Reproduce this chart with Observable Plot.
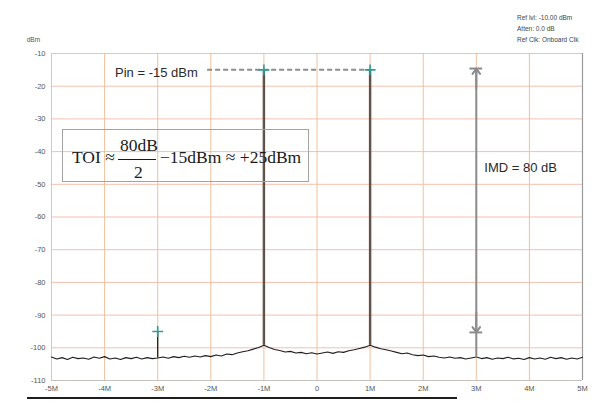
<!DOCTYPE html>
<html>
<head>
<meta charset="utf-8">
<script src="https://cdn.jsdelivr.net/npm/d3@7"></script>
<script src="https://cdn.jsdelivr.net/npm/@observablehq/plot@0.6"></script>
<style>
  body { margin: 0; background: #fff; }
  #wrap { position: relative; width: 600px; height: 417px; overflow: hidden; background: #fff; }
  #wrap svg { position: absolute; left: 0; top: 0; }
  .hdr { position: absolute; left: 517px; top: 12px; font: 6.5px "Liberation Sans", sans-serif; line-height: 11px; color: #444; white-space: nowrap; }
  .toibox { position: absolute; left: 62px; top: 129px; width: 247px; height: 53px; box-sizing: border-box; border: 1.5px solid #a3a3a3; }
  .m { position: absolute; font: 17.5px "Liberation Serif", serif; line-height: 1; color: #1a1a1a; white-space: nowrap; }
  .bar { position: absolute; left: 118px; top: 159px; width: 38px; height: 1px; background: #1a1a1a; }
  .under { position: absolute; left: 27px; top: 397px; width: 430px; height: 2px; background: #1e1e1e; }
</style>
</head>
<body>
<div id="wrap"></div>
<script>
// Frequency offsets (MHz) of the measured noise trace
const freqs = [-5.0,-4.9,-4.8,-4.7,-4.6,-4.5,-4.4,-4.3,-4.2,-4.1,-4.0,-3.9,-3.8,-3.7,-3.6,-3.5,-3.4,-3.3,-3.2,-3.1,
  -3.0,-2.9,-2.8,-2.7,-2.6,-2.5,-2.4,-2.3,-2.2,-2.1,-2.0,-1.9,-1.8,-1.7,-1.6,-1.5,-1.4,-1.3,-1.2,-1.1,
  -1.0,-0.9,-0.8,-0.7,-0.6,-0.5,-0.4,-0.3,-0.2,-0.1,0.0,0.1,0.2,0.3,0.4,0.5,0.6,0.7,0.8,0.9,
  1.0,1.1,1.2,1.3,1.4,1.5,1.6,1.7,1.8,1.9,2.0,2.1,2.2,2.3,2.4,2.5,2.6,2.7,2.8,2.9,
  3.0,3.1,3.2,3.3,3.4,3.5,3.6,3.7,3.8,3.9,4.0,4.1,4.2,4.3,4.4,4.5,4.6,4.7,4.8,4.9,5.0];
// Noise floor level (dBm)
const noise = [-102.8,-103.4,-103.0,-103.6,-102.9,-103.3,-103.1,-103.5,-102.8,-103.2,-102.7,-103.4,-103.1,-103.6,-103.0,-103.3,-102.9,-103.4,-103.0,-103.3,
  -103.1,-102.8,-103.2,-102.7,-103.0,-102.6,-102.9,-102.5,-102.8,-102.4,-102.7,-102.2,-102.5,-101.9,-102.1,-101.6,-101.2,-100.9,-100.4,-99.9,
  -99.2,-99.9,-100.5,-100.8,-101.3,-101.1,-101.6,-101.4,-101.8,-101.5,-101.9,-101.6,-101.3,-101.7,-101.2,-101.4,-100.9,-100.6,-100.2,-99.8,
  -99.2,-99.8,-100.3,-100.6,-101.0,-101.4,-101.8,-101.6,-102.1,-102.4,-102.2,-102.7,-102.5,-102.9,-103.1,-102.8,-103.2,-103.0,-103.4,-103.1,
  -102.8,-103.3,-103.0,-103.5,-103.1,-103.3,-102.9,-103.4,-103.2,-103.6,-103.0,-103.4,-103.1,-103.5,-102.9,-103.3,-103.0,-103.5,-103.1,-103.4,-102.9];

// Two input tones
const toneFreqs = [-1, 1];
const toneLevels = [-15, -15];
// Third-order intermod product
const imdFreqs = [-3];
const imdLevels = [-95];

// Axis ticks
const xTicks = [-5, -4, -3, -2, -1, 0, 1, 2, 3, 4, 5];
const xTickLabels = ["-5M", "-4M", "-3M", "-2M", "-1M", "0", "1M", "2M", "3M", "4M", "5M"];
const yTicks = [-10, -20, -30, -40, -50, -60, -70, -80, -90, -100, -110];
const yTickLabels = ["-10", "-20", "-30", "-40", "-50", "-60", "-70", "-80", "-90", "-100", "-110"];

// Annotation values
const pinLevel = -15;
const imdArrowFreq = 3;
const imdArrowTop = -14.6;
const imdArrowBottom = -95.3;

const trace = freqs.map((f, i) => ({f, v: noise[i]}));
const levelAt = f => noise[freqs.findIndex(x => Math.abs(x - f) < 1e-9)];
const tones = toneFreqs.map((f, i) => ({f, v: toneLevels[i], base: levelAt(f)}));
const imds = imdFreqs.map((f, i) => ({f, v: imdLevels[i], base: levelAt(f)}));
const markers = [...tones, ...imds];

const font = "Liberation Sans, Arial, sans-serif";
const gray = "#8c8c8c";

const chart = Plot.plot({
  width: 600,
  height: 417,
  marginLeft: 51,
  marginRight: 18,
  marginTop: 53,
  marginBottom: 37,
  style: {fontFamily: font, color: "#555", background: "transparent"},
  x: {domain: [-5, 5], axis: null, label: null},
  y: {domain: [-110, -10], axis: null, label: null},
  marks: [
    Plot.gridY(yTicks, {stroke: "#f5bfae", strokeOpacity: 1, strokeWidth: 1}),
    Plot.gridX(xTicks, {stroke: "#f0c09c", strokeOpacity: 1, strokeWidth: 1}),
    Plot.ruleX([5], {stroke: "#9a9a9a", strokeWidth: 1.2}),
    Plot.ruleY([-110], {stroke: "#c8c0bb", strokeWidth: 1}),
    Plot.axisX(xTicks, {tickSize: 0, tickPadding: 5, fontSize: 7.5, fill: "#555", label: null,
      tickFormat: d => xTickLabels[xTicks.indexOf(d)]}),
    Plot.axisY(yTicks, {tickSize: 0, tickPadding: 6, fontSize: 7.5, fill: "#555", label: null,
      tickFormat: d => yTickLabels[yTicks.indexOf(d)]}),
    Plot.text(["dBm"], {x: -5.34, y: -5.7, text: d => d, fontSize: 6.5, fill: "#555"}),
    // tone spikes
    Plot.ruleX(tones, {x: "f", y1: "base", y2: "v", stroke: "#4e4038", strokeWidth: 2.4}),
    Plot.ruleX(tones, {x: "f", y1: "base", y2: "v", stroke: "#8a7666", strokeWidth: 0.7}),
    // IMD spike
    Plot.ruleX(imds, {x: "f", y1: "base", y2: "v", stroke: "#1e1e1e", strokeWidth: 1.3}),
    // noise trace
    Plot.line(trace, {x: "f", y: "v", stroke: "#1e1e1e", strokeWidth: 1.1}),
    // Pin dashed reference line
    Plot.ruleY([pinLevel], {x1: -2.06, x2: 1, stroke: gray, strokeWidth: 2, strokeDasharray: "5,3"}),
    // IMD dimension arrow
    Plot.ruleX([imdArrowFreq], {y1: imdArrowTop, y2: -103.2, stroke: gray, strokeWidth: 2}),
    Plot.ruleY([imdArrowTop, imdArrowBottom], {x1: imdArrowFreq - 0.12, x2: imdArrowFreq + 0.12, stroke: gray, strokeWidth: 2}),
    Plot.arrow([0], {x1: imdArrowFreq, y1: imdArrowTop - 6, x2: imdArrowFreq, y2: imdArrowTop, stroke: gray, strokeWidth: 2, headLength: 9, headAngle: 70}),
    Plot.arrow([0], {x1: imdArrowFreq, y1: imdArrowBottom + 6, x2: imdArrowFreq, y2: imdArrowBottom, stroke: gray, strokeWidth: 2, headLength: 9, headAngle: 70}),
    // markers
    Plot.dot(markers, {x: "f", y: "v", symbol: "plus", r: 3.6, stroke: "#2e9d93", strokeWidth: 1.6}),
    // labels
    Plot.text(["Pin = -15 dBm"], {x: -2.245, y: -15.8, text: d => d, textAnchor: "end", fontSize: 13, fill: "#2a2a2a"}),
    Plot.text(["IMD = 80 dB"], {x: 3.15, y: -44.9, text: d => d, textAnchor: "start", fontSize: 13, fill: "#2a2a2a"})
  ]
});

const wrap = document.getElementById("wrap");
wrap.appendChild(chart);

const html = `
<div class="hdr">Ref lvl: -10.00 dBm<br>Atten: 0.0 dB<br>Ref Clk: Onboard Clk</div>
<div class="toibox"></div>
<span class="m" style="left:72px;top:149px">TOI ≈</span>
<span class="m" style="left:120px;top:137px">80dB</span>
<div class="bar"></div>
<span class="m" style="left:134px;top:164px">2</span>
<span class="m" style="left:160px;top:149px">−15dBm ≈ +25dBm</span>
<div class="under"></div>`;
wrap.insertAdjacentHTML("beforeend", html);
</script>
</body>
</html>
